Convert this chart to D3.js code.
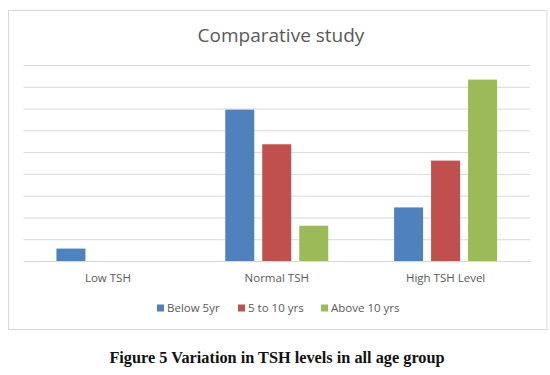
<!DOCTYPE html>
<html>
<head>
<meta charset="utf-8">
<script src="https://cdn.jsdelivr.net/npm/d3@7"></script>
<style>
  html, body { margin: 0; padding: 0; background: #fff; }
  svg { display: block; }
</style>
</head>
<body>
<svg id="chart" width="550" height="375"></svg>
<script>
const categories = ["Low TSH", "Normal TSH", "High TSH Level"];
const seriesNames = ["Below 5yr", "5 to 10 yrs", "Above 10 yrs"];
const below5 = [5.7, 69.5, 24.6];
const from5to10 = [0, 53.6, 46.1];
const above10 = [0, 16.2, 83.3];
const yTicks = [0, 10, 20, 30, 40, 50, 60, 70, 80, 90];
const colors = ["#4F81BD", "#C0504D", "#9BBB59"];
const title = "Comparative study";
const caption = "Figure 5 Variation in TSH levels in all age group";

const seriesValues = [below5, from5to10, above10];

const svg = d3.select("#chart");
const font = "'Open Sans', 'Noto Sans', sans-serif";

// chart frame
svg.append("rect")
  .attr("x", 8.5).attr("y", 10.5)
  .attr("width", 538.5).attr("height", 319)
  .attr("fill", "#fff").attr("stroke", "#D9D9D9").attr("stroke-width", 1);

const plot = { left: 23.5, right: 530, top: 65, bottom: 261 };

const x0 = d3.scaleBand().domain(categories).range([plot.left, plot.right]).paddingInner(0).paddingOuter(0);
const x1 = d3.scaleBand().domain(seriesNames).range([0, x0.bandwidth()]).paddingInner(0.216).paddingOuter(0.89);
const y = d3.scaleLinear().domain([0, 90]).range([plot.bottom, plot.top]);

// gridlines
const yAxis = d3.axisLeft(y).tickValues(yTicks).tickSize(-(plot.right - plot.left)).tickFormat("");
const gy = svg.append("g").attr("transform", `translate(${plot.left},0)`).call(yAxis);
gy.select(".domain").remove();
gy.selectAll(".tick line").attr("stroke", "#D9D9D9").attr("stroke-width", 1);

// bars
const groups = svg.append("g").selectAll("g")
  .data(categories)
  .join("g")
  .attr("transform", d => `translate(${x0(d)},0)`);

groups.selectAll("rect")
  .data((c, i) => seriesNames.map((s, j) => ({ s, j, v: seriesValues[j][i] })))
  .join("rect")
  .attr("x", d => x1(d.s))
  .attr("width", x1.bandwidth())
  .attr("y", d => y(d.v))
  .attr("height", d => y(0) - y(d.v))
  .attr("fill", d => colors[d.j]);

// x axis
const xAxis = d3.axisBottom(x0).tickSize(0).tickPadding(0);
const gx = svg.append("g").attr("transform", `translate(0,${plot.bottom})`).call(xAxis);
gx.select(".domain").attr("stroke", "#D9D9D9");
gx.selectAll(".tick text")
  .attr("y", 21).attr("dy", 0)
  .attr("fill", "#595959")
  .style("font-family", font).style("font-size", "11.5px");

// title
svg.append("text")
  .attr("x", 281).attr("y", 42)
  .attr("text-anchor", "middle")
  .attr("fill", "#595959")
  .style("font-family", font).style("font-size", "19px")
  .text(title);

// legend
const legendX = [157, 238, 321];
const legend = svg.append("g").selectAll("g")
  .data(seriesNames)
  .join("g")
  .attr("transform", (d, i) => `translate(${legendX[i]},0)`);
legend.append("rect")
  .attr("x", 0).attr("y", 304.5).attr("width", 7).attr("height", 7)
  .attr("fill", (d, i) => colors[i]);
legend.append("text")
  .attr("x", 10).attr("y", 312)
  .attr("fill", "#595959")
  .style("font-family", font).style("font-size", "11.5px")
  .text(d => d);

// caption
svg.append("text")
  .attr("x", 277).attr("y", 363)
  .attr("text-anchor", "middle")
  .attr("fill", "#111")
  .style("font-family", "'Liberation Serif', 'Times New Roman', serif")
  .style("font-weight", "bold")
  .style("font-size", "16.3px")
  .text(caption);
</script>
</body>
</html>
